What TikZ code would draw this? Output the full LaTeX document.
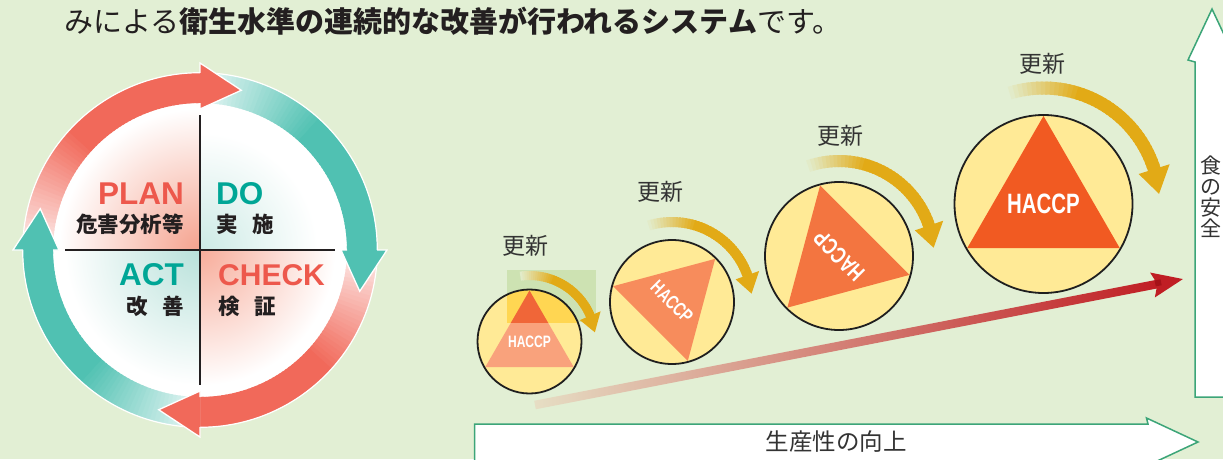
\documentclass[tikz,border=0pt]{standalone}
\usepackage{fontspec}
\newfontfamily\jp{Noto Sans CJK JP}
\newfontfamily\lat{Liberation Sans}
\newfontfamily\latn[FakeStretch=0.73]{Liberation Sans}
\definecolor{bgc}{RGB}{226,239,212}
\definecolor{pred}{RGB}{241,105,90}
\definecolor{pteal}{RGB}{80,193,178}
\definecolor{tred}{RGB}{237,88,76}
\definecolor{tteal}{RGB}{0,166,150}
\definecolor{txt}{RGB}{35,31,32}
\definecolor{lbl}{RGB}{51,51,51}
\definecolor{gold}{RGB}{226,170,22}
\definecolor{yel}{RGB}{255,234,150}
\definecolor{yeld}{RGB}{255,214,82}
\definecolor{boxg}{RGB}{205,226,178}
\definecolor{axg}{RGB}{60,165,120}
\definecolor{qpc}{RGB}{245,162,142}
\definecolor{qpc2}{RGB}{247,172,154}
\definecolor{qtc}{RGB}{184,225,218}
\definecolor{qtc2}{RGB}{204,234,229}
\definecolor{triA}{RGB}{249,162,124}
\definecolor{triAd}{RGB}{240,102,56}
\definecolor{triB}{RGB}{247,140,92}
\definecolor{triC}{RGB}{243,117,64}
\definecolor{triD}{RGB}{241,90,34}
\definecolor{redA}{RGB}{230,222,196}
\definecolor{redB}{RGB}{212,135,100}
\definecolor{redC}{RGB}{192,30,36}
\definecolor{redD}{RGB}{165,18,24}
\pgfdeclareradialshading{qpink}{\pgfpoint{0bp}{0bp}}{color(0bp)=(qpc); color(24bp)=(white); color(50bp)=(white)}
\pgfdeclareradialshading{qpinkb}{\pgfpoint{0bp}{0bp}}{color(0bp)=(qpc2); color(23bp)=(white); color(50bp)=(white)}
\pgfdeclareradialshading{qteal}{\pgfpoint{0bp}{0bp}}{color(0bp)=(qtc); color(23bp)=(white); color(50bp)=(white)}
\pgfdeclareradialshading{qtealb}{\pgfpoint{0bp}{0bp}}{color(0bp)=(qtc2); color(20bp)=(white); color(50bp)=(white)}

% ring arrow body: start angle, end angle, colour, fade length (segments of 60)
\newcommand\ringbody[4]{%
  \foreach \i in {0,...,59}{%
    \pgfmathsetmacro\aA{#1+(#2-#1)*\i/60}%
    \pgfmathsetmacro\aB{#1+(#2-#1)*(\i+1.5)/60}%
    \pgfmathtruncatemacro\mypc{min(100,12+88*\i/#4)}%
    \fill[#3!\mypc!white] (\aA:147) arc[start angle=\aA,end angle=\aB,radius=147] -- (\aB:177) arc[start angle=\aB,end angle=\aA,radius=177] -- cycle;
  }}
% ring arrow head: base angle, tip angle, colour
\newcommand\ringhead[3]{%
  \fill[#3] (#1:141) -- (#2:165) -- (#1:187) -- cycle;
  \draw[white,line width=1.3,line join=miter] (#1:177) -- (#1:187) -- (#2:165) -- (#1:141) -- (#1:147);}
% gold curved arrow: cx, cy, R, w, start, head base, tip
\newcommand\goldarc[7]{%
  \begin{scope}[shift={(#1,#2)}]
  \pgfmathsetmacro\rin{#3-#4/2}%
  \pgfmathsetmacro\rout{#3+#4/2}%
  \foreach \i in {0,...,39}{%
    \pgfmathsetmacro\aA{#5+(#6-#5)*\i/40}%
    \pgfmathsetmacro\aB{#5+(#6-#5)*(\i+1.5)/40}%
    \pgfmathtruncatemacro\mypc{min(100,6+94*\i/15)}%
    \fill[gold!\mypc!bgc] (\aA:\rin) arc[start angle=\aA,end angle=\aB,radius=\rin] -- (\aB:\rout) arc[start angle=\aB,end angle=\aA,radius=\rout] -- cycle;
  }
  \pgfmathsetmacro\hin{#3-1.25*#4}%
  \pgfmathsetmacro\hout{#3+1.25*#4}%
  \fill[gold] (#6:\hin) -- (#7:#3) -- (#6:\hout) -- cycle;
  \end{scope}}
% HACCP ball: name, cx, cy, r, rotation, triangle colour, font size
\newcommand\haccpball[7]{%
  \begin{scope}[shift={(#2,#3)}]
  \fill[yel] (0,0) circle (#4);
  \pgfmathsetmacro\tr{#4-1}%
  \fill[#6] ({90+#5}:\tr) -- ({210+#5}:\tr) -- ({330+#5}:\tr) -- cycle;
  \node[haccp, rotate=#5, font={\latn\bfseries\fontsize{#7}{#7}\selectfont}] (#1) at (0,0) {HACCP};
  \end{scope}}

\tikzset{
  haccp/.style={text=white, inner sep=0},
  jplbl/.style={font={\jp\fontsize{23}{23}\selectfont}, text=lbl, inner sep=0},
  pdcaword/.style={font={\lat\bfseries\fontsize{31.5}{31.5}\selectfont}, inner sep=0},
  pdcajp/.style={font={\jp\bfseries\fontsize{21.5}{21.5}\selectfont}, text=txt, inner sep=0},
  ballline/.style={draw=black!88, line width=1.8},
  axisarrow/.style={fill=white, draw=axg, line width=1.5, line join=miter},
}

\begin{document}
\begin{tikzpicture}[x=1pt,y=1pt]
\useasboundingbox (0,0) rectangle (1223,459);
\clip (0,0) rectangle (1223,459);
\fill[bgc] (0,0) rectangle (1223,459);

% title line
\node[anchor=west, inner sep=0, text=txt, font={\jp\fontsize{29}{31}\selectfont}] (title) at (64,438)
  {みによる{\bfseries 衛生水準の連続的な改善が行われるシステム}です。};

% ---------------- PDCA circle ----------------
\begin{scope}[shift={(200,209)}]
  \fill[white] (0,0) circle (148);
  \begin{scope}\clip (0,0) rectangle (-150,150); \shade[shading=qpink] (0,0) circle (147); \end{scope}
  \begin{scope}\clip (0,0) rectangle (150,150); \shade[shading=qtealb] (0,0) circle (147); \end{scope}
  \begin{scope}\clip (0,0) rectangle (-150,-150); \shade[shading=qteal] (0,0) circle (147); \end{scope}
  \begin{scope}\clip (0,0) rectangle (150,-150); \shade[shading=qpinkb] (0,0) circle (147); \end{scope}
  \ringbody{180}{90}{pred}{28}
  \ringbody{90}{0}{pteal}{28}
  \ringbody{0}{-90}{pred}{28}
  \ringbody{-90}{-180}{pteal}{28}
  \draw[white,line width=1.2] (0,0) circle (177.3);
  \ringhead{90}{75.5}{pred}
  \ringhead{0}{-14.5}{pteal}
  \ringhead{-90}{-104.5}{pred}
  \ringhead{180}{165.5}{pteal}
  \draw[txt,line width=1.3] (0,135) -- (0,-135);
  \draw[txt,line width=1.3] (-135,0) -- (135,0);
  \node[pdcaword, text=tred, anchor=east] (plan) at (-16,56) {PLAN};
  \node[pdcajp, anchor=east] (planjp) at (-16,26) {危害分析等};
  \node[pdcaword, text=tteal, anchor=west] (do) at (16,56) {DO};
  \node[pdcajp, anchor=west] (dojp) at (16,26) {実\hspace{0.68em}施};
  \node[pdcaword, text=tteal, anchor=east] (act) at (-16,-25) {ACT};
  \node[pdcajp, anchor=east] (actjp) at (-16,-56) {改\hspace{0.68em}善};
  \node[pdcaword, text=tred, anchor=west, font={\lat\bfseries\fontsize{30}{30}\selectfont}] (check) at (18,-25) {CHECK};
  \node[pdcajp, anchor=west] (checkjp) at (18,-56) {検\hspace{0.68em}証};
\end{scope}

% ---------------- axes ----------------
\draw[axisarrow] (474.5,-5) -- (474.5,35) -- (1148,35) -- (1146.5,41) -- (1198,17) -- (1146.5,-7) -- (1148,-5) -- cycle;
\node[jplbl, font={\jp\fontsize{23.5}{23.5}\selectfont}] (prod) at (836,17) {生産性の向上};
\draw[axisarrow] (1195,62) -- (1195,397) -- (1188,399) -- (1212,450) -- (1236,399) -- (1229,397) -- (1229,62) -- cycle;
\node[inner sep=0, text=lbl, align=center, font={\jp\fontsize{21}{21}\selectfont}] (safety) at (1211,262.5) {食\\の\\安\\全};

% ---------------- red trend arrow ----------------
\begin{scope}[shift={(535,54)}, rotate=11]
  \shade[left color=redA, middle color=redB, right color=redC] (0,-4.3) rectangle (633,4.3);
  \fill[redC] (660,0) -- (629,12.7) -- (634,0) -- (629,-12.7) -- cycle;
  \fill[redD] (632,-2) rectangle (638,4);
\end{scope}

% ---------------- HACCP balls ----------------
\haccpball{b1}{529.5}{117.5}{52}{0}{triA}{16.5}
\begin{scope}
  \clip (507,137) rectangle (596,189);
  \fill[boxg] (507,137) rectangle (596,189);
  \fill[yeld] (529.5,117.5) circle (52);
  \fill[triAd] (529.5,168.5) -- ++(-44.2,-76.5) -- ++(88.4,0) -- cycle;
\end{scope}
\draw[ballline] (529.5,117.5) circle (52);

\haccpball{b2}{672}{157}{62}{-45}{triB}{19.5}
\draw[ballline] (672,157) circle (62);
\haccpball{b3}{839}{203}{74}{135}{triC}{23.3}
\draw[ballline] (839,203) circle (74);
\haccpball{b4}{1043.5}{255}{89}{0}{triD}{28}
\draw[ballline] (1043.5,255) circle (89);

% ---------------- gold renewal arrows ----------------
\goldarc{529.5}{117.5}{66}{9}{98}{23}{8}
\goldarc{672}{157}{80}{10}{107}{19.6}{6}
\goldarc{839}{203}{95}{12}{109}{18.7}{5}
\goldarc{1043.5}{255}{116}{13}{107}{17.5}{5}

\node[jplbl] (u1) at (525,213) {更新};
\node[jplbl] (u2) at (660,267) {更新};
\node[jplbl] (u3) at (840,323) {更新};
\node[jplbl] (u4) at (1042,395) {更新};
\end{tikzpicture}
\end{document}
